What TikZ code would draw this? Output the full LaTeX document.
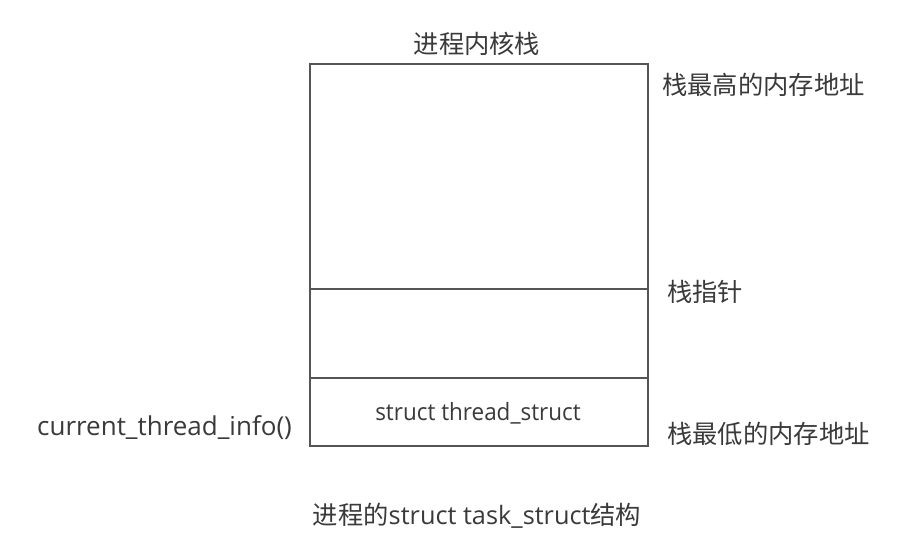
\documentclass[tikz,border=0pt]{standalone}
\usepackage{fontspec}
\setmainfont{Open Sans}
\newfontfamily\cjk{Noto Sans CJK SC}
\definecolor{txt}{HTML}{3A3A3A}
\definecolor{ln}{HTML}{555555}
\begin{document}
\begin{tikzpicture}[x=1pt,y=-1pt,
  lbl/.style={inner sep=0pt,text=txt,font=\fontsize{25.3}{28}\selectfont},
  box/.style={draw=ln,line width=1.4pt}]
\useasboundingbox (0,0) rectangle (903,558);
\fill[white] (0,0) rectangle (903,558);
\draw[box] (310,64) rectangle (648,446);
\coordinate (spL) at (310,289);
\coordinate (spR) at (648,289);
\coordinate (tiL) at (310,378);
\coordinate (tiR) at (648,378);
\draw[box] (spL) -- (spR);
\draw[box] (tiL) -- (tiR);
\node[lbl,anchor=center] (title) at (477,44) {\cjk 进程内核栈};
\node[lbl,anchor=west] (hi) at (662,85) {\cjk 栈最高的内存地址};
\node[lbl,anchor=west] (sp) at (667,292) {\cjk 栈指针};
\node[lbl,anchor=west] (lo) at (667,434) {\cjk 栈最低的内存地址};
\node[lbl,anchor=west,font=\fontsize{26}{29}\selectfont] (cti) at (37,428) {current\_thread\_info()};
\node[lbl,anchor=center,font=\fontsize{22}{25}\selectfont] (ts) at (478,413) {\scalebox{1.02}[1.08]{struct thread\_struct}};
\node[lbl,anchor=center] (task) at (477,516) {{\cjk 进程的}struct task\_struct{\cjk 结构}};
\end{tikzpicture}
\end{document}
